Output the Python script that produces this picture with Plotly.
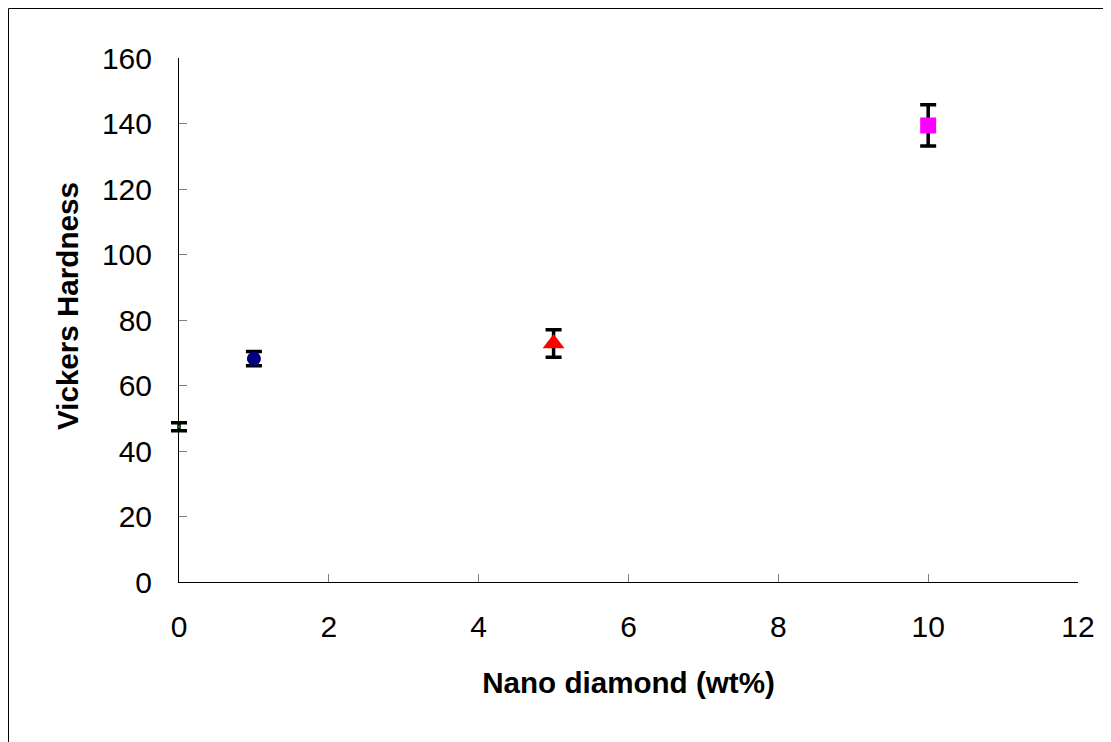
import plotly.graph_objects as go

# Data
x_vals = [0, 1, 5, 10]
hardness = [47.4, 68.2, 72.8, 139.4]
errors = [1.2, 2.2, 4.2, 6.3]
marker_symbols = ["circle", "circle", "triangle-up", "square"]
marker_colors = ["#008000", "#000080", "#FF0000", "#FF00FF"]
marker_sizes = [3, 14, 19, 16]

x_ticks = [0, 2, 4, 6, 8, 10, 12]
y_ticks = [0, 20, 40, 60, 80, 100, 120, 140, 160]

# layout geometry (figure pixels; page adds an 8px body margin)
W, H = 1103, 734
ML, MR, MT, MB = 151, 33, 50, 160
EXTRA = 20  # extra room on the left so the x=0 error bar is not clipped
pw = W - ML - MR
ph = H - MT - MB
x_lo = -EXTRA * 12 / (pw - EXTRA)

fig = go.Figure()
for i in range(len(x_vals)):
    on_left = x_vals[i] == 0
    fig.add_trace(go.Scatter(
        x=[x_vals[i]], y=[hardness[i]], mode="markers",
        marker=dict(symbol=marker_symbols[i], color=marker_colors[i], size=marker_sizes[i],
                    line=dict(width=0)),
        error_y=dict(type="data", array=[errors[i]], visible=True, color="black",
                     thickness=3.5, width=8),
        cliponaxis=False, showlegend=False,
        xaxis="x2" if on_left else "x", yaxis="y2" if on_left else "y",
    ))

font_family = "Liberation Sans, Arial, sans-serif"
fig.update_layout(
    width=W, height=H,
    margin=dict(l=ML, r=MR, t=MT, b=MB),
    paper_bgcolor="white", plot_bgcolor="rgba(0,0,0,0)",
    font=dict(family=font_family, color="black"),
    xaxis=dict(domain=[EXTRA / pw, 1], range=[0, 12], tickvals=x_ticks, ticks="inside", ticklen=8,
               tickcolor="#808080", tickwidth=1, showline=True, linecolor="black", linewidth=1,
               showgrid=False, zeroline=False, tickfont=dict(size=30, family=font_family),
               ticklabelstandoff=18, anchor="y",
               title=dict(text="<b>Nano diamond (wt%)</b>", font=dict(size=29.6, family=font_family),
                          standoff=30)),
    yaxis=dict(range=[0, 160], tickvals=y_ticks, ticks="inside", ticklen=8, anchor="x",
               tickcolor="#808080", tickwidth=1, showline=True, linecolor="black", linewidth=1,
               showgrid=False, zeroline=False, tickfont=dict(size=30, family=font_family),
               ticklabelstandoff=20),
    xaxis2=dict(domain=[0, 1], range=[x_lo, 12], visible=False, anchor="y2"),
    yaxis2=dict(domain=[0, 1], range=[0, 160], visible=False, anchor="x2"),
    annotations=[
        dict(text="<b>Vickers Hardness</b>", xref="paper", yref="paper",
             x=(59 - ML) / pw, y=(H - MB - 298) / ph, xanchor="center", yanchor="middle",
             textangle=-90, showarrow=False, font=dict(size=29.6, family=font_family)),
    ],
    shapes=[
        dict(type="line", xref="paper", yref="paper",
             x0=(0.5 - ML) / pw, x1=(0.5 - ML) / pw, y0=-0.5, y1=(ph + MT - 0.5) / ph,
             line=dict(color="black", width=1)),
        dict(type="line", xref="paper", yref="paper",
             x0=(0.5 - ML) / pw, x1=1.2, y0=(ph + MT - 0.5) / ph, y1=(ph + MT - 0.5) / ph,
             line=dict(color="black", width=1)),
    ],
)

fig.write_html("out.html")
